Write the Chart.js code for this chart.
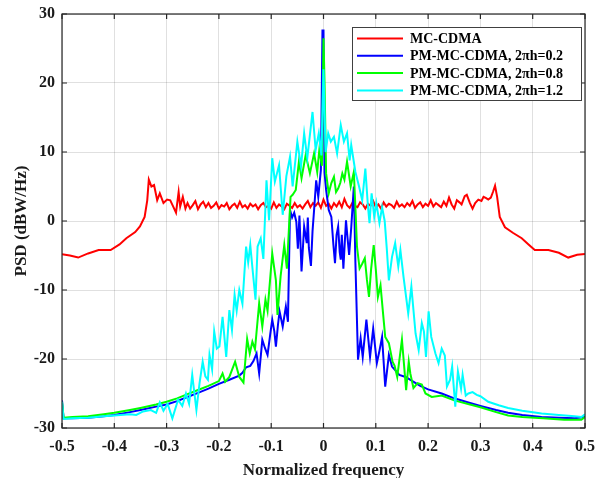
<!DOCTYPE html>
<html>
<head>
<meta charset="utf-8">
<script src="https://cdn.jsdelivr.net/npm/chart.js@4.4.1/dist/chart.umd.min.js"></script>
<style>
  html, body { margin: 0; padding: 0; background: #fff; }
  canvas { display: block; }
</style>
</head>
<body>
<canvas id="psdChart" width="595" height="478"></canvas>
<script>
const seriesNames = ['MC-CDMA', 'PM-MC-CDMA, 2\u03c0h=0.2', 'PM-MC-CDMA, 2\u03c0h=0.8', 'PM-MC-CDMA, 2\u03c0h=1.2'];
const seriesColors = ['#ff0000', '#0000ff', '#00ff00', '#00ffff'];
const xTicks = [-0.5, -0.4, -0.3, -0.2, -0.1, 0, 0.1, 0.2, 0.3, 0.4, 0.5];
const yTicks = [-30, -20, -10, 0, 10, 20, 30];

// MC-CDMA: edges as [f, psd], flat ripple in the middle
const redLeft = [[-0.5,-4.8],[-0.485,-5.0],[-0.469,-5.3],[-0.45,-4.7],[-0.43,-4.2],[-0.407,-4.2],[-0.39,-3.4],[-0.377,-2.5],
  [-0.36,-1.6],[-0.351,-0.8],[-0.342,0.6],[-0.337,3.0],[-0.334,6.0],[-0.329,5.0],[-0.324,5.2],[-0.318,3.0],[-0.313,4.0],
  [-0.306,2.6],[-0.299,3.1],[-0.293,3.0],[-0.288,2.2],[-0.282,1.2],[-0.277,4.2],[-0.274,2.1],[-0.269,3.5],[-0.264,1.8]];
const redRippleStart = -0.26;
const redRippleStep = 0.005;
const redRipple = [2.6,1.8,2.3,2.9,1.7,2.4,2.8,2.0,2.6,1.9,2.2,2.7,1.8,2.3,2.1,
  2.6,1.7,2.2,2.5,1.9,2.8,2.0,2.3,1.8,2.5,2.1,2.4,1.7,2.3,2.6,
  2.0,2.2,1.8,2.7,1.9,2.4,2.1,1.7,2.5,2.2,1.9,2.6,2.0,2.3,1.8,
  2.4,2.9,2.0,2.6,2.2,2.7,1.9,3.1,2.2,2.5,1.8,2.6,2.1,2.8,2.0,
  3.2,2.3,1.9,2.6,2.2,2.0,2.7,2.4,1.8,2.5,2.2,2.9,2.0,2.4,1.8,
  2.7,2.1,2.5,2.3,1.9,2.8,2.1,2.4,2.0,2.6,2.2,2.9,1.9,2.4,2.7,
  2.0,2.5,2.2,3.0,2.1,2.6,2.3,2.0,2.8,2.2,3.4,2.4,1.8,3.0,2.7];
const redRight = [[0.264,2.4],[0.27,3.6],[0.274,3.8],[0.28,2.6],[0.285,1.8],[0.29,2.6],[0.296,3.1],[0.302,2.9],[0.306,3.5],
  [0.311,3.3],[0.315,3.1],[0.32,3.4],[0.324,4.2],[0.328,5.1],[0.332,3.5],[0.337,0.6],[0.347,-0.9],[0.362,-1.7],[0.379,-2.5],
  [0.392,-3.4],[0.404,-4.2],[0.43,-4.2],[0.45,-4.6],[0.468,-5.3],[0.485,-4.9],[0.5,-4.8]];

const pm02 = [[-0.5,-26.0],[-0.497,-28.6],[-0.48,-28.6],[-0.45,-28.5],[-0.42,-28.3],[-0.40,-28.1],[-0.37,-27.7],[-0.35,-27.4],
  [-0.32,-26.9],[-0.30,-26.6],[-0.28,-26.1],[-0.26,-25.5],[-0.24,-24.9],[-0.22,-24.3],[-0.20,-23.6],[-0.18,-23.0],
  [-0.161,-22.4],[-0.155,-22.0],[-0.148,-21.2],[-0.14,-21.0],[-0.134,-20.3],[-0.128,-19.2],[-0.123,-22.1],[-0.117,-17.2],
  [-0.112,-18.4],[-0.107,-19.4],[-0.102,-16.5],[-0.098,-14.3],[-0.094,-16.0],[-0.091,-18.2],[-0.087,-15.0],[-0.084,-13.1],
  [-0.078,-15.3],[-0.072,-12.4],[-0.068,-14.6],[-0.064,1.6],[-0.06,0.5],[-0.056,1.2],[-0.052,-0.1],[-0.049,-4.0],[-0.046,0.8],
  [-0.042,-7.3],[-0.037,-0.8],[-0.032,-3.2],[-0.03,0.5],[-0.028,-3.9],[-0.024,-6.5],[-0.021,-1.5],[-0.018,1.6],[-0.014,5.9],
  [-0.01,3.5],[-0.005,7.4],[-0.002,27.6],[0.0,27.6],[0.002,7.0],[0.005,4.5],[0.01,1.6],[0.015,0.6],[0.019,-3.5],[0.022,-6.1],
  [0.025,-2.0],[0.028,-0.8],[0.031,-4.5],[0.033,-5.6],[0.035,-2.0],[0.038,-6.9],[0.043,0.1],[0.046,-2.5],[0.049,-4.9],
  [0.053,-1.0],[0.058,5.0],[0.061,-6.0],[0.066,-20.1],[0.071,-17.0],[0.075,-19.7],[0.082,-14.3],[0.089,-19.7],[0.095,-15.6],
  [0.102,-20.6],[0.107,-18.8],[0.112,-16.8],[0.118,-24.0],[0.125,-19.4],[0.131,-21.1],[0.137,-21.6],[0.145,-22.3],
  [0.157,-22.6],[0.17,-23.2],[0.185,-23.9],[0.20,-24.4],[0.226,-25.0],[0.25,-25.7],[0.277,-26.3],[0.30,-26.8],[0.33,-27.4],
  [0.353,-27.8],[0.38,-28.1],[0.417,-28.4],[0.45,-28.5],[0.48,-28.6],[0.5,-28.4]];

const pm08 = [[-0.5,-26.2],[-0.497,-28.5],[-0.48,-28.4],[-0.45,-28.3],[-0.42,-28.0],[-0.40,-27.8],[-0.37,-27.4],[-0.35,-27.1],
  [-0.32,-26.6],[-0.30,-26.2],[-0.28,-25.7],[-0.26,-25.1],[-0.24,-24.5],[-0.22,-23.9],[-0.20,-23.2],[-0.193,-22.1],
  [-0.188,-23.3],[-0.18,-22.6],[-0.169,-20.4],[-0.161,-22.6],[-0.153,-23.4],[-0.146,-17.1],[-0.141,-19.2],[-0.136,-17.5],
  [-0.131,-18.6],[-0.123,-11.9],[-0.117,-15.3],[-0.111,-11.4],[-0.107,-13.0],[-0.098,-4.7],[-0.091,-8.6],[-0.088,-13.6],
  [-0.082,-8.0],[-0.075,-3.5],[-0.07,-6.9],[-0.063,3.5],[-0.059,3.8],[-0.053,4.5],[-0.047,8.6],[-0.042,6.2],[-0.034,9.6],
  [-0.026,6.9],[-0.018,9.8],[-0.012,7.1],[-0.008,10.3],[-0.003,8.0],[0.0,26.5],[0.002,20.0],[0.005,6.9],[0.01,4.0],
  [0.015,5.5],[0.02,6.4],[0.024,4.2],[0.028,4.7],[0.032,5.5],[0.036,6.9],[0.04,6.0],[0.045,8.6],[0.052,5.0],[0.058,7.1],
  [0.061,2.0],[0.064,-3.7],[0.069,-6.9],[0.074,-6.2],[0.079,-5.4],[0.083,-8.5],[0.087,-11.0],[0.091,-7.0],[0.096,-3.5],
  [0.1,-7.0],[0.104,-11.0],[0.109,-9.3],[0.114,-13.5],[0.118,-16.8],[0.125,-17.7],[0.132,-20.4],[0.136,-21.0],[0.141,-22.6],
  [0.15,-17.2],[0.158,-24.5],[0.163,-20.4],[0.166,-22.1],[0.172,-24.2],[0.18,-23.5],[0.188,-23.7],[0.195,-25.0],[0.207,-25.5],
  [0.226,-25.3],[0.25,-26.0],[0.28,-26.6],[0.30,-27.0],[0.33,-27.7],[0.353,-28.2],[0.38,-28.4],[0.42,-28.6],[0.46,-28.8],
  [0.493,-28.8],[0.5,-28.4]];

const pm12 = [[-0.5,-26.2],[-0.497,-28.7],[-0.48,-28.6],[-0.45,-28.5],[-0.42,-28.3],[-0.40,-28.2],[-0.37,-28.0],[-0.358,-28.1],
  [-0.345,-27.6],[-0.33,-27.4],[-0.32,-27.8],[-0.313,-26.3],[-0.306,-27.5],[-0.298,-26.5],[-0.289,-28.6],[-0.278,-25.9],
  [-0.27,-26.8],[-0.263,-25.0],[-0.257,-26.5],[-0.251,-22.3],[-0.243,-27.4],[-0.237,-23.5],[-0.231,-20.4],[-0.226,-22.5],
  [-0.221,-23.0],[-0.218,-19.4],[-0.213,-21.5],[-0.209,-16.0],[-0.204,-18.5],[-0.199,-18.2],[-0.193,-13.9],[-0.186,-19.7],
  [-0.18,-12.9],[-0.175,-15.8],[-0.17,-10.7],[-0.166,-13.0],[-0.161,-10.0],[-0.155,-12.0],[-0.148,-3.7],[-0.144,-6.0],
  [-0.14,-3.5],[-0.135,-7.5],[-0.13,-11.4],[-0.126,-3.7],[-0.12,-2.5],[-0.115,-5.5],[-0.109,5.9],[-0.104,0.1],[-0.098,9.1],
  [-0.093,5.7],[-0.085,8.1],[-0.078,0.9],[-0.071,6.5],[-0.064,9.3],[-0.059,5.0],[-0.05,11.5],[-0.043,7.9],[-0.037,12.7],
  [-0.031,9.1],[-0.021,15.8],[-0.015,10.3],[-0.009,12.7],[-0.004,9.5],[0.0,22.0],[0.004,10.0],[0.009,12.7],[0.014,11.5],
  [0.02,12.2],[0.026,9.8],[0.033,13.9],[0.039,11.5],[0.045,12.7],[0.05,8.8],[0.053,11.0],[0.061,7.1],[0.068,5.0],[0.074,3.0],
  [0.08,7.6],[0.085,2.1],[0.088,-0.3],[0.092,4.0],[0.097,0.6],[0.101,2.6],[0.107,-0.3],[0.112,2.0],[0.117,0.0],[0.121,-4.0],
  [0.125,-8.6],[0.131,-5.2],[0.137,-3.2],[0.143,-6.6],[0.147,-4.2],[0.153,-8.1],[0.162,-13.4],[0.168,-9.5],[0.176,-16.3],
  [0.182,-18.7],[0.188,-14.8],[0.192,-16.0],[0.196,-19.7],[0.201,-13.1],[0.206,-16.8],[0.214,-19.2],[0.22,-20.6],
  [0.226,-18.5],[0.232,-19.5],[0.236,-24.0],[0.242,-23.0],[0.246,-21.1],[0.252,-26.9],[0.257,-21.8],[0.263,-24.3],
  [0.266,-22.3],[0.272,-25.3],[0.277,-25.0],[0.285,-24.8],[0.293,-25.2],[0.30,-25.4],[0.315,-26.2],[0.335,-26.7],
  [0.353,-27.1],[0.38,-27.5],[0.417,-27.9],[0.45,-28.1],[0.48,-28.3],[0.493,-28.4],[0.5,-28.0]];

function toPoints(pairs) {
    return pairs.map(p => ({ x: p[0], y: p[1] }));
}

function redPoints() {
    const pts = toPoints(redLeft);
    redRipple.forEach((v, i) => pts.push({ x: redRippleStart + i * redRippleStep, y: v }));
    return pts.concat(toPoints(redRight));
}

const serif = 'Liberation Serif, Times New Roman, serif';

const boxPlugin = {
    id: 'boxPlugin',
    afterDraw(chart) {
        const c = chart.ctx;
        const a = chart.chartArea;
        const xs = chart.scales.x;
        const ys = chart.scales.y;
        c.save();
        c.strokeStyle = '#262626';
        c.lineWidth = 1.2;
        c.strokeRect(a.left, a.top, a.right - a.left, a.bottom - a.top);
        c.beginPath();
        xTicks.forEach(t => {
            const px = xs.getPixelForValue(t);
            c.moveTo(px, a.bottom); c.lineTo(px, a.bottom - 5);
            c.moveTo(px, a.top); c.lineTo(px, a.top + 5);
        });
        yTicks.forEach(t => {
            const py = ys.getPixelForValue(t);
            c.moveTo(a.left, py); c.lineTo(a.left + 5, py);
            c.moveTo(a.right, py); c.lineTo(a.right - 5, py);
        });
        c.stroke();

        // legend box
        const lx = 352, ly = 27, lw = 229, lh = 73;
        c.fillStyle = '#ffffff';
        c.fillRect(lx, ly, lw, lh);
        c.strokeStyle = '#404040';
        c.lineWidth = 1;
        c.strokeRect(lx + 0.5, ly + 0.5, lw, lh);
        c.font = 'bold 14px ' + serif;
        c.textBaseline = 'middle';
        chart.data.datasets.forEach((ds, i) => {
            const yy = 38.5 + i * 17.3;
            c.strokeStyle = ds.borderColor;
            c.lineWidth = 2;
            c.beginPath();
            c.moveTo(357, yy); c.lineTo(403, yy);
            c.stroke();
            c.fillStyle = '#000000';
            c.fillText(ds.label, 410, yy + 1);
        });
        c.restore();
    }
};

const allSeries = [redPoints(), toPoints(pm02), toPoints(pm08), toPoints(pm12)];

const ctx = document.getElementById('psdChart').getContext('2d');
const psdChart = new Chart(ctx, {
    type: 'line',
    data: {
        datasets: allSeries.map((pts, i) => ({
            label: seriesNames[i],
            data: pts,
            borderColor: seriesColors[i],
            backgroundColor: seriesColors[i],
            borderWidth: 2,
            pointRadius: 0,
            tension: 0,
            fill: false,
            order: 3 - i
        }))
    },
    options: {
        responsive: false,
        animation: false,
        devicePixelRatio: 1,
        layout: { padding: { top: 14, right: 10, left: 0, bottom: 0 } },
        plugins: {
            legend: { display: false },
            tooltip: { enabled: false }
        },
        scales: {
            x: {
                type: 'linear',
                min: -0.5,
                max: 0.5,
                afterBuildTicks: s => { s.ticks = xTicks.map(v => ({ value: v })); },
                afterFit: s => { s.height = 50; s.paddingLeft = 0; s.paddingRight = 0; },
                grid: { color: 'rgba(0,0,0,0.12)', lineWidth: 1, drawTicks: false },
                border: { display: false },
                ticks: {
                    padding: 9,
                    maxRotation: 0,
                    color: '#1a1a1a',
                    font: { family: serif, size: 16, weight: 'bold' },
                    callback: v => String(Math.round(v * 10) / 10)
                },
                title: {
                    display: true,
                    text: 'Normalized frequency',
                    color: '#1a1a1a',
                    padding: { top: 0, bottom: -3 },
                    font: { family: serif, size: 17, weight: 'bold' }
                }
            },
            y: {
                min: -30,
                max: 30,
                afterBuildTicks: s => { s.ticks = yTicks.map(v => ({ value: v })); },
                afterFit: s => { s.width = 62; s.paddingTop = 0; s.paddingBottom = 0; },
                grid: { color: 'rgba(0,0,0,0.12)', lineWidth: 1, drawTicks: false },
                border: { display: false },
                ticks: {
                    padding: 7,
                    color: '#1a1a1a',
                    font: { family: serif, size: 16, weight: 'bold' }
                },
                title: {
                    display: true,
                    text: 'PSD (dBW/Hz)',
                    color: '#1a1a1a',
                    padding: { top: 11, bottom: 0 },
                    font: { family: serif, size: 17, weight: 'bold' }
                }
            }
        }
    },
    plugins: [boxPlugin]
});
</script>
</body>
</html>
